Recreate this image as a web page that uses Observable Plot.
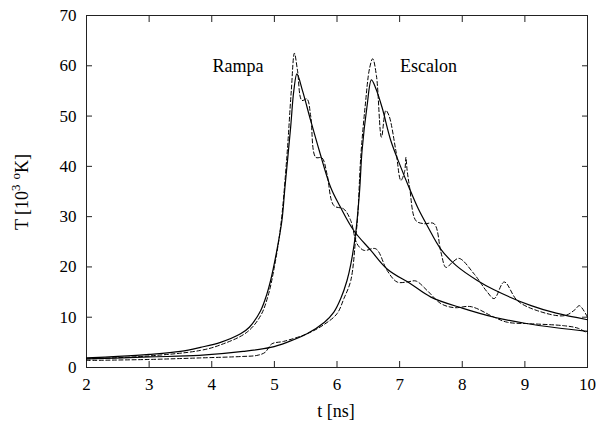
<!DOCTYPE html>
<html><head><meta charset="utf-8">
<script src="https://cdn.jsdelivr.net/npm/d3@7"></script>
<script src="https://cdn.jsdelivr.net/npm/@observablehq/plot@0.6"></script>
<style>body{margin:0;background:#fff}</style>
</head><body><div id="chart"></div>
<script>
// [t (ns), T (10^3 K)]
const rampaFit = [[2.0,1.9],[2.5,2.2],[3.0,2.6],[3.5,3.2],[3.82,4.0],[4.14,5.0],[4.46,6.7],[4.6,8.0],[4.78,11.3],[4.88,14.6],[4.94,17.3],[5.04,23.3],[5.12,29.2],[5.17,36],[5.26,47.8],[5.31,55],[5.36,58.4],[5.45,55],[5.58,49.1],[5.72,43],[5.90,35.8],[6.05,32],[6.27,27.2],[6.54,23.3],[6.80,19.6],[7.18,16.6],[7.50,14.0],[8.0,11.8],[8.51,10.0],[9.0,8.8],[9.5,7.9],[10.0,7.2]];
const rampaData = [[2.0,1.7],[3.0,2.3],[3.82,3.4],[4.14,4.5],[4.56,7.0],[4.78,10.3],[4.9,14.3],[5.0,20],[5.1,28],[5.2,42],[5.27,55],[5.32,62.5],[5.37,59],[5.44,53.1],[5.52,53.4],[5.58,50],[5.66,41.8],[5.76,41.7],[5.84,38.5],[5.95,32.2],[6.11,31.5],[6.22,29.2],[6.32,24.6],[6.43,23.3],[6.62,23.6],[6.80,19.3],[6.96,17.0],[7.12,17.0],[7.26,17.2],[7.44,15.3],[7.66,12.7],[7.87,11.9],[8.14,12.1],[8.51,10.0],[8.72,9.0],[9.1,8.7],[9.63,8.3],[9.85,7.8],[10.0,6.8]];
const escalonFit = [[2.0,1.7],[3.0,2.1],[3.8,2.4],[4.5,3.2],[4.94,4.0],[5.2,5.0],[5.52,6.7],[5.8,9.0],[5.95,11.0],[6.06,13.7],[6.16,17.3],[6.22,20.5],[6.30,26.9],[6.36,35],[6.40,43.1],[6.48,52],[6.55,57.2],[6.62,55.5],[6.72,51.7],[6.86,45.1],[7.02,39.8],[7.15,35.8],[7.3,31.5],[7.45,28],[7.66,23.5],[7.9,20.3],[8.24,17.3],[8.5,15.5],[9.1,12.3],[9.5,10.8],[10.0,9.5]];
const escalonData = [[2.0,1.4],[3.0,1.6],[3.8,1.9],[4.5,2.2],[4.72,2.4],[4.85,3.0],[4.96,4.7],[5.15,5.2],[5.52,6.7],[5.8,8.6],[6.0,10.7],[6.11,13.7],[6.22,17.3],[6.30,26],[6.33,30],[6.38,42],[6.45,52],[6.52,59.5],[6.57,61.4],[6.63,58],[6.71,45.8],[6.78,51.1],[6.83,50.1],[6.94,43.1],[7.02,37.2],[7.08,39],[7.10,41.8],[7.12,39.2],[7.16,35.8],[7.26,29.2],[7.39,28.6],[7.55,28.6],[7.66,22.9],[7.74,19.9],[7.85,21.0],[7.95,21.7],[8.19,18.6],[8.4,15.0],[8.51,13.7],[8.67,17.0],[8.88,13.3],[9.2,11.3],[9.63,10.3],[9.8,11.5],[9.87,12.3],[10.0,10.0]];
const curveLabels = [{name:"Rampa", t:4.42, T:60}, {name:"Escalon", t:7.46, T:60}];
const xTicks = [2,3,4,5,6,7,8,9,10];
const yTicks = [0,10,20,30,40,50,60,70];
const xTitle = "t [ns]";

const toObj = a => a.map(([t,T]) => ({t, T}));
const font = "Liberation Serif, DejaVu Serif, serif";
const chart = Plot.plot({
  width: 599, height: 426,
  marginLeft: 86, marginRight: 12, marginTop: 15, marginBottom: 59,
  style: {fontFamily: font, fontSize: "17px", color: "black", background: "white"},
  x: {domain: [2, 10]},
  y: {domain: [0, 70]},
  marks: [
    Plot.axisX({ticks: xTicks, tickSize: -6, tickPadding: 16, label: null, stroke: "#222"}),
    Plot.axisX({anchor: "top", ticks: xTicks, tickSize: -6, tickFormat: () => "", label: null, stroke: "#222"}),
    Plot.axisY({ticks: yTicks, tickSize: -6, tickPadding: 16, label: null, stroke: "#222"}),
    Plot.axisY({anchor: "right", ticks: yTicks, tickSize: -6, tickFormat: () => "", label: null, stroke: "#222"}),
    Plot.frame({stroke: "#222"}),
    Plot.line(toObj(rampaFit), {x: "t", y: "T", curve: "catmull-rom", stroke: "black", strokeWidth: 1.2}),
    Plot.line(toObj(escalonFit), {x: "t", y: "T", curve: "catmull-rom", stroke: "black", strokeWidth: 1.2}),
    Plot.line(toObj(rampaData), {x: "t", y: "T", curve: "catmull-rom", stroke: "black", strokeWidth: 1, strokeDasharray: "4,2.5"}),
    Plot.line(toObj(escalonData), {x: "t", y: "T", curve: "catmull-rom", stroke: "black", strokeWidth: 1, strokeDasharray: "4,2.5"}),
    Plot.text(curveLabels, {x: "t", y: "T", text: "name", fontSize: 18, fill: "black", fontFamily: font})
  ]
});
const svgEl = chart.tagName.toLowerCase() === "svg" ? chart : chart.querySelector("svg");
svgEl.querySelectorAll("text").forEach(t => t.style.fontFamily = font);
const svg = d3.select(svgEl);
svg.append("text").attr("x", 336).attr("y", 413).attr("text-anchor", "middle").attr("dominant-baseline", "middle")
  .style("font-family", font).attr("font-size", 18).attr("fill", "black").text(xTitle);
const yl = svg.append("text").attr("transform", "translate(24,192) rotate(-90)").attr("text-anchor", "middle")
  .attr("dominant-baseline", "middle").style("font-family", font).attr("font-size", 18).attr("fill", "black");
yl.append("tspan").text("T [10");
yl.append("tspan").attr("font-size", 13).attr("dy", -7).text("3");
yl.append("tspan").attr("font-size", 13).attr("dx", 5).text("o");
yl.append("tspan").attr("dy", 7).text("K]");
document.getElementById("chart").appendChild(chart);
</script></body></html>
